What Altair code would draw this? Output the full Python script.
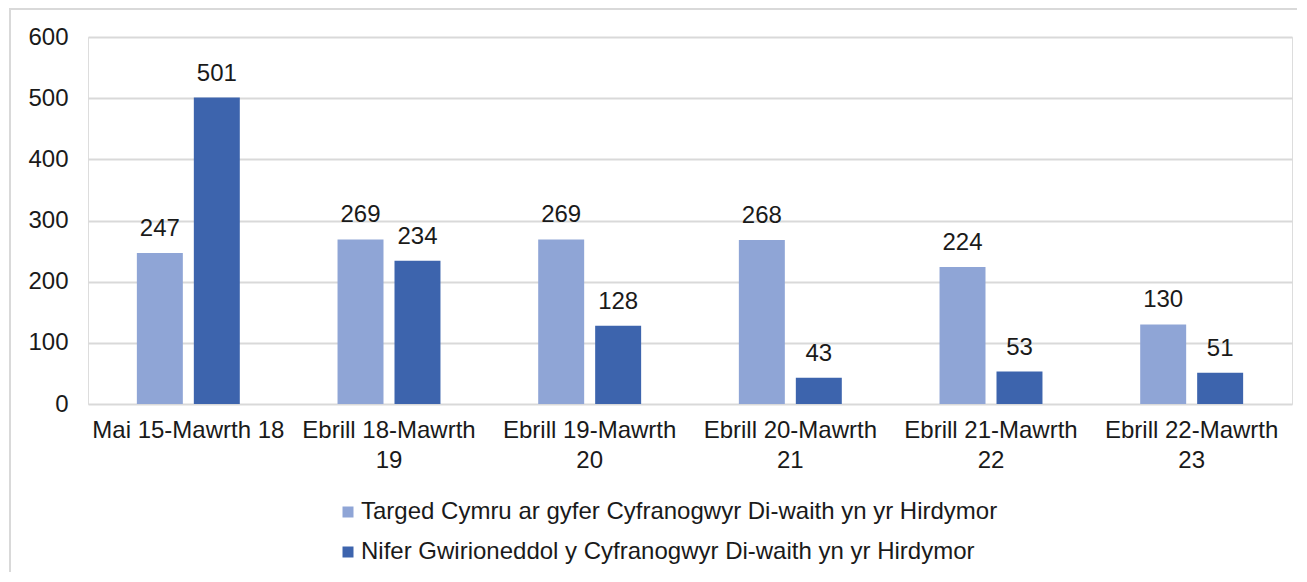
import altair as alt
import pandas as pd

categories = [
    "Mai 15-Mawrth 18",
    "Ebrill 18-Mawrth 19",
    "Ebrill 19-Mawrth 20",
    "Ebrill 20-Mawrth 21",
    "Ebrill 21-Mawrth 22",
    "Ebrill 22-Mawrth 23",
]
series = [
    "Targed Cymru ar gyfer Cyfranogwyr Di-waith yn yr Hirdymor",
    "Nifer Gwirioneddol y Cyfranogwyr Di-waith yn yr Hirdymor",
]
target = [247, 269, 269, 268, 224, 130]
actual = [501, 234, 128, 43, 53, 51]
colors = ["#8FA5D6", "#3D64AD"]
y_ticks = [0, 100, 200, 300, 400, 500, 600]

rows = []
for c, t, a in zip(categories, target, actual):
    rows.append({"cat": c, "series": series[0], "value": t})
    rows.append({"cat": c, "series": series[1], "value": a})
df = pd.DataFrame(rows)

FONT = "Liberation Sans"
TXT = "#1a1a1a"

label_expr = (
    "length(datum.label) > 16 ? "
    "[slice(datum.label, 0, lastindexof(datum.label, ' ')), "
    "slice(datum.label, lastindexof(datum.label, ' ') + 1)] : datum.label"
)

x = alt.X(
    "cat:N",
    sort=categories,
    title=None,
    scale=alt.Scale(paddingInner=0.487, paddingOuter=0.2435),
    axis=alt.Axis(
        labelAngle=0,
        labelFontSize=24,
        labelColor=TXT,
        labelFont=FONT,
        labelPadding=14,
        labelLineHeight=30,
        labelExpr=label_expr,
        labelLimit=400,
        ticks=False,
        domain=False,
        grid=False,
    ),
)
xo = alt.XOffset(
    "series:N", sort=series, scale=alt.Scale(paddingInner=0.193, paddingOuter=0)
)
y = alt.Y(
    "value:Q",
    title=None,
    scale=alt.Scale(domain=[0, 600], nice=False),
    axis=alt.Axis(
        values=y_ticks,
        labelFontSize=24,
        labelColor=TXT,
        labelFont=FONT,
        labelPadding=20,
        ticks=False,
        domain=False,
        gridColor="#d9d9d9",
        gridWidth=2,
    ),
)
color = alt.Color(
    "series:N",
    sort=series,
    scale=alt.Scale(domain=series, range=colors),
    legend=alt.Legend(
        title=None,
        orient="none",
        legendX=248,
        legendY=463,
        direction="vertical",
        symbolType="square",
        symbolSize=121,
        symbolStrokeWidth=0,
        labelFontSize=24,
        labelFont=FONT,
        labelColor=TXT,
        labelLimit=900,
        labelOffset=1,
        rowPadding=16,
        padding=0,
    ),
)

bars = alt.Chart(df).mark_bar().encode(x=x, xOffset=xo, y=y, color=color)
labels = (
    alt.Chart(df)
    .mark_text(baseline="alphabetic", dy=-17, fontSize=24, font=FONT, color=TXT)
    .encode(x=x, xOffset=xo, y=y, text="value:Q")
)

frame_df = pd.DataFrame({"a": [0]})
frame_left = (
    alt.Chart(frame_df)
    .mark_rule(color="#d9d9d9", strokeWidth=2)
    .encode(x=alt.value(-78), y=alt.value(-28), y2=alt.value(700))
)
frame_top = (
    alt.Chart(frame_df)
    .mark_rule(color="#d9d9d9", strokeWidth=2)
    .encode(x=alt.value(-79), x2=alt.value(1209), y=alt.value(-28))
)

chart = (
    alt.layer(frame_left, frame_top, bars, labels)
    .properties(
        width=1204,
        height=367,
        autosize=alt.AutoSizeParams(type="none"),
        padding={"left": 80, "top": 29, "right": 5, "bottom": 168},
    )
    .configure_view(stroke=None)
    .configure(font=FONT)
)

chart.save("out.html", embed_options={"renderer": "svg", "actions": False})
